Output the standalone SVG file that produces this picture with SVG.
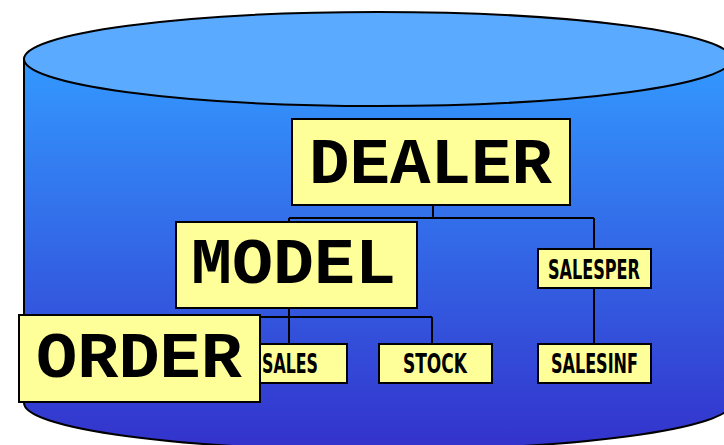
<svg xmlns="http://www.w3.org/2000/svg" width="724" height="445" viewBox="0 0 724 445">
  <defs>
    <linearGradient id="body" gradientUnits="userSpaceOnUse" x1="0" y1="60" x2="0" y2="445">
      <stop offset="0" stop-color="#3399ff"/>
      <stop offset="1" stop-color="#3333cc"/>
    </linearGradient>
  </defs>
  <style>
    .box { fill: #ffff99; stroke: #000; stroke-width: 2; }
    .big { font-family: "Liberation Mono", "DejaVu Sans Mono", monospace; font-weight: bold; font-size: 64px; fill: #000; }
    .small { font-family: "Liberation Sans Narrow", "DejaVu Sans Condensed", "Liberation Sans", sans-serif; font-weight: bold; font-size: 26.5px; fill: #000; }
    .conn { fill: none; stroke: #000; stroke-width: 2; }
  </style>
  <g id="cylinder">
    <path d="M24,59 L24,403 A354,47 0 0 0 732,403 L732,59 Z" fill="url(#body)" stroke="#000" stroke-width="2"/>
    <ellipse cx="378" cy="59" rx="354" ry="47" fill="#5aaaff" stroke="#000" stroke-width="2"/>
  </g>
  <g id="connectors">
    <path class="conn" d="M433,205 V218 M289,218 H594 M289,218 V222 M594,218 V249"/>
    <path class="conn" d="M289,308 V317 M140,317 H432 M140,317 V315 M289,317 V344 M432,317 V344"/>
    <path class="conn" d="M594,288 V344"/>
  </g>
  <g id="dealer">
    <rect class="box" x="292" y="119" width="278" height="86"/>
    <text class="big" x="309" y="183" textLength="243" lengthAdjust="spacingAndGlyphs">DEALER</text>
  </g>
  <g id="model">
    <rect class="box" x="176" y="222" width="241" height="86"/>
    <text class="big" x="191" y="283" textLength="205" lengthAdjust="spacingAndGlyphs">MODEL</text>
  </g>
  <g id="sales">
    <rect class="box" x="234" y="344" width="113" height="39"/>
    <text class="small" x="262" y="373" textLength="56" lengthAdjust="spacingAndGlyphs">SALES</text>
  </g>
  <g id="stock">
    <rect class="box" x="379" y="344" width="113" height="39"/>
    <text class="small" x="403" y="373" textLength="64" lengthAdjust="spacingAndGlyphs">STOCK</text>
  </g>
  <g id="salesper">
    <rect class="box" x="538" y="249" width="113" height="39"/>
    <text class="small" x="548" y="279" textLength="92" lengthAdjust="spacingAndGlyphs">SALESPER</text>
  </g>
  <g id="salesinf">
    <rect class="box" x="538" y="344" width="113" height="39"/>
    <text class="small" x="551" y="373" textLength="87" lengthAdjust="spacingAndGlyphs">SALESINF</text>
  </g>
  <g id="order">
    <rect class="box" x="19" y="315" width="241" height="87"/>
    <text class="big" x="36" y="377" textLength="206" lengthAdjust="spacingAndGlyphs">ORDER</text>
  </g>
</svg>
